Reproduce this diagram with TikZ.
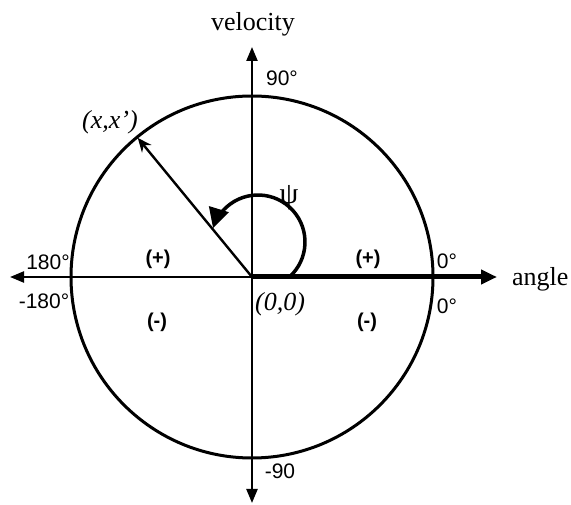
\documentclass[tikz,border=0pt]{standalone}
\usepackage{fontspec}
\setmainfont{Liberation Serif}
\setsansfont{Liberation Sans}
\usetikzlibrary{arrows.meta,calc}
\tikzset{
  serif/.style={font=\fontsize{26}{30}\selectfont\rmfamily, inner sep=0pt},
  serifit/.style={font=\fontsize{26}{30}\selectfont\rmfamily\itshape, inner sep=0pt},
  sanslbl/.style={font=\fontsize{21}{25}\selectfont\sffamily, inner sep=0pt},
  signlbl/.style={font=\fontsize{20}{24}\selectfont\sffamily\bfseries, inner sep=0pt},
  axis/.style={line width=2.3pt, -{Triangle[length=14pt,width=11pt]}},
}
\begin{document}
\begin{tikzpicture}[x=1pt,y=1pt]
\useasboundingbox (0,0) rectangle (571,504);
\coordinate (O) at (252,227);
\coordinate (top) at (252,457);
\coordinate (bot) at (252,1);
\coordinate (left) at (10,227);
\coordinate (right) at (497,227);
% circle
\draw[line width=3pt] (O) circle[radius=181];
% axes
\draw[axis] (O) -- (top);
\draw[axis] (O) -- (bot);
\draw[axis] (O) -- (left);
\draw[line width=5pt, -{Triangle[length=16pt,width=14pt]}] (O) -- (right);
% radius vector
\coordinate (P) at ($(O)+(129.4:180)$);
\draw[line width=2.4pt, -{Stealth[length=14pt,width=12pt]}] (O) -- (P);
% psi arc
\coordinate (C) at (258,262);
\draw[line width=3.5pt, -{Triangle[length=20pt,width=20pt]}] (C) ++(-48:47) arc[start angle=-48, end angle=163, radius=47];
% labels
\node[serif] (vel) at (253,480) {velocity};
\node[serif, anchor=west] (ang) at (512,225) {angle};
\node[sanslbl] (n90) at (282,426) {90°};
\node[sanslbl] (m90) at (280,33) {-90};
\node[sanslbl] (n180) at (48,242) {180°};
\node[sanslbl] (m180) at (44,203) {-180°};
\node[sanslbl] (z1) at (447,243) {0°};
\node[sanslbl] (z2) at (447,198) {0°};
\node[signlbl] (p1) at (158,245) {(+)};
\node[signlbl] (p2) at (368,245) {(+)};
\node[signlbl] (m1) at (157,182) {(-)};
\node[signlbl] (m2) at (367,182) {(-)};
\node[serifit] (orig) at (280,200) {(0,0)};
\node[serifit] (pt) at (110,382) {(x,x’)};
\node[serif] (psi) at (289,306) {\fontsize{30}{34}\selectfont ψ};
\end{tikzpicture}
\end{document}
